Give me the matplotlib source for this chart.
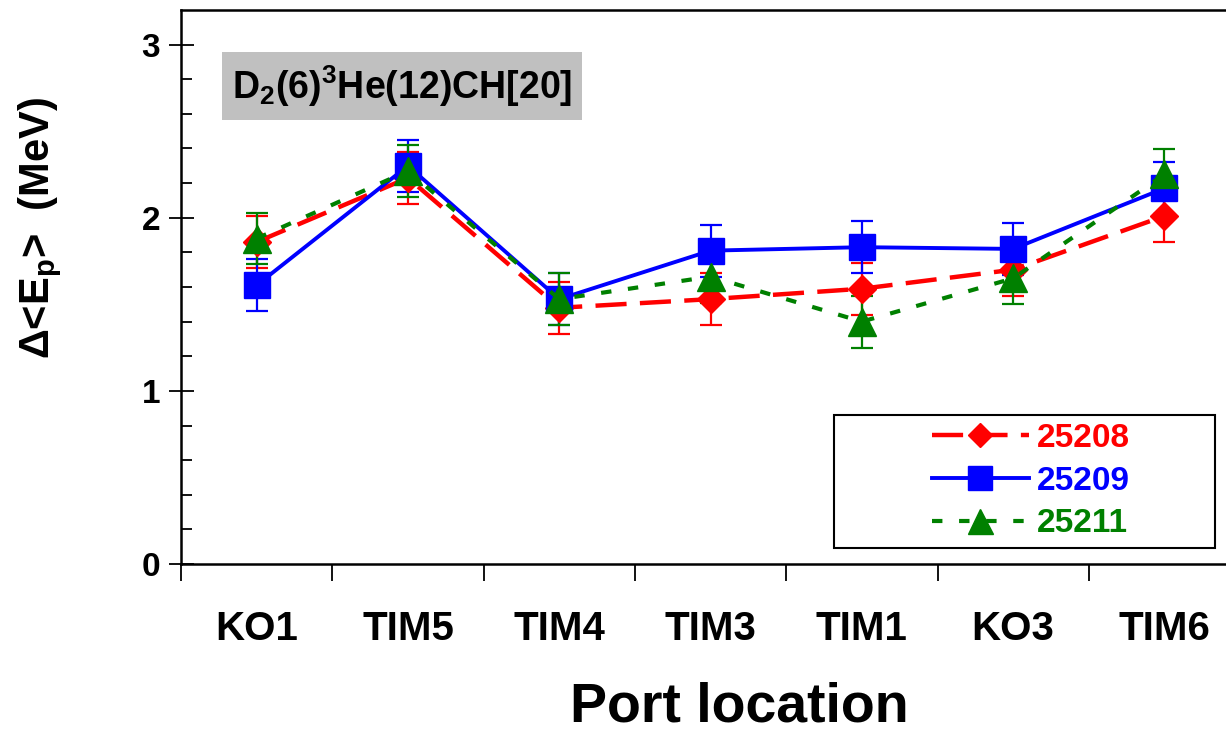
import matplotlib.pyplot as plt
from matplotlib.lines import Line2D
from matplotlib.patches import Rectangle
import numpy as np

# --- data ---
ports = ['KO1', 'TIM5', 'TIM4', 'TIM3', 'TIM1', 'KO3', 'TIM6']
shots = ['25208', '25209', '25211']
e_25208 = [1.86, 2.23, 1.48, 1.53, 1.59, 1.70, 2.01]
e_25209 = [1.61, 2.30, 1.53, 1.81, 1.83, 1.82, 2.17]
e_25211 = [1.88, 2.27, 1.53, 1.66, 1.40, 1.65, 2.25]
err_25208 = [0.15, 0.15, 0.15, 0.15, 0.15, 0.15, 0.15]
err_25209 = [0.15, 0.15, 0.15, 0.15, 0.15, 0.15, 0.15]
err_25211 = [0.15, 0.15, 0.15, 0.15, 0.15, 0.15, 0.15]

plt.rcParams['font.family'] = ['Liberation Sans', 'DejaVu Sans']
plt.rcParams['font.weight'] = 'bold'
plt.rcParams['mathtext.fontset'] = 'custom'
plt.rcParams['mathtext.rm'] = 'Liberation Sans:bold'
plt.rcParams['mathtext.it'] = 'Liberation Sans:bold'
plt.rcParams['mathtext.bf'] = 'Liberation Sans:bold'
plt.rcParams['mathtext.default'] = 'rm'

W, H = 1226, 750
fig = plt.figure(figsize=(W / 100, H / 100), dpi=100)
ax = fig.add_axes([181 / W, 1 - 564 / H, 1 - 181 / W, (564 - 10) / H])

x = np.arange(len(ports)) + 0.5

styles = [
    (e_25208, err_25208, 'red', 'D', 14, (0, (7, 3)), 3.2),
    (e_25209, err_25209, 'blue', 's', 19, '-', 2.8),
    (e_25211, err_25211, 'green', '^', 20, (0, (2.5, 4)), 3.0),
]
handles = []
for (vals, errs, col, mk, ms, ls, lw), name in zip(styles, shots):
    ax.errorbar(x, vals, yerr=errs, color=col, marker=mk, markersize=ms,
                linestyle=ls, linewidth=lw, elinewidth=1.6, capsize=8,
                capthick=1.6)
    handles.append(Line2D([], [], color=col, marker=mk, markersize=ms * 0.9,
                          linestyle=ls, linewidth=lw, label=name))

ax.set_xlim(0, (W - 181) / 151.3)
ax.set_ylim(0, 3.2)

ax.spines['right'].set_visible(False)
for s in ['left', 'top', 'bottom']:
    ax.spines[s].set_linewidth(1.8)

ax.set_xticks(np.arange(0, 7))
ax.set_xticklabels([])
ax.set_xticks(x, minor=True)
ax.set_xticklabels(ports, minor=True, fontsize=29, fontweight='bold')
ax.tick_params(axis='x', which='major', direction='out', length=12, width=1.3)
ax.tick_params(axis='x', which='minor', length=0, pad=33)

ax.set_yticks([0, 1, 2, 3])
ax.set_yticklabels(['0', '1', '2', '3'], fontsize=24, fontweight='bold')
ax.set_yticks(np.arange(0, 3.2, 0.2), minor=True)
ax.tick_params(axis='y', which='major', direction='inout', length=18, width=1.3, pad=6)
ax.tick_params(axis='y', which='minor', direction='in', length=8, width=1.3)

# legend frame drawn separately, wide as in the reference
fig.add_artist(Rectangle((834 / W, 1 - 548 / H), (1215 - 834) / W, (548 - 415) / H,
                         transform=fig.transFigure, facecolor='white',
                         edgecolor='black', linewidth=1.5, zorder=5))
leg = fig.legend(handles=handles, loc='center left',
                 bbox_to_anchor=(932 / W, 1 - 481 / H),
                 fontsize=24, frameon=False, handlelength=2.9,
                 borderpad=0, labelspacing=0.35, borderaxespad=0,
                 handletextpad=0.25)
leg.set_zorder(6)
for t, col in zip(leg.get_texts(), ['red', 'blue', 'green']):
    t.set_color(col)
    t.set_fontweight('bold')

fig.add_artist(Rectangle((222 / W, 1 - 120 / H), (582 - 222) / W, (120 - 52) / H,
                         transform=fig.transFigure, facecolor='#c0c0c0',
                         edgecolor='none', zorder=5))
fig.text(402 / W, 1 - 86 / H, r'D$_2$(6)$^3$He(12)CH[20]', fontsize=27,
         fontweight='bold', ha='center', va='center', zorder=6)

fig.text(40 / W, 1 - 228 / H, r'$\Delta$<E$_\mathrm{p}$>  (MeV)', fontsize=30,
         fontweight='bold', rotation=90, ha='center', va='center')
fig.text(739 / W, 1 - 707 / H, 'Port location', fontsize=40,
         fontweight='bold', ha='center', va='center')

fig.savefig('out.png', dpi=100)
